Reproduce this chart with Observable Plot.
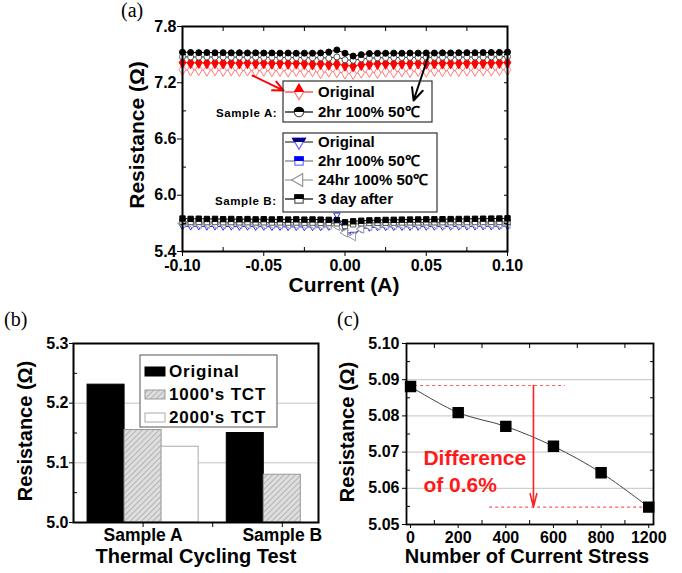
<!DOCTYPE html>
<html><head><meta charset="utf-8">
<script src="https://cdn.jsdelivr.net/npm/d3@7"></script>
<script src="https://cdn.jsdelivr.net/npm/@observablehq/plot@0.6"></script>
<style>
body{margin:0;background:#fff;}
#root{position:relative;width:682px;height:573px;overflow:hidden;background:#fff;}
#root > svg, #root > figure{position:absolute;margin:0;}
#root text{font-weight:bold;}
</style></head><body>
<svg width="0" height="0" style="position:absolute"><defs>
<pattern id="hatch" patternUnits="userSpaceOnUse" width="4" height="4" patternTransform="rotate(45)">
<rect width="4" height="4" fill="#dedede"/><line x1="0" y1="0" x2="0" y2="4" stroke="#9c9c9c" stroke-width="1.3"/></pattern>
</defs></svg>
<div id="root"></div>
<script>
// ================= DATA =================
// Panel (a): resistance vs current
const currentA = [-0.100,-0.095,-0.090,-0.085,-0.080,-0.075,-0.070,-0.065,-0.060,-0.055,-0.050,-0.045,-0.040,-0.035,-0.030,-0.025,-0.020,-0.015,-0.010,-0.005,0.000,0.005,0.010,0.015,0.020,0.025,0.030,0.035,0.040,0.045,0.050,0.055,0.060,0.065,0.070,0.075,0.080,0.085,0.090,0.095,0.100];
const sampleA_original_fill = [7.415,7.412,7.414,7.410,7.413,7.409,7.412,7.408,7.411,7.407,7.410,7.406,7.409,7.405,7.407,7.404,7.398,7.402,7.395,7.400,7.385,7.378,7.392,7.398,7.403,7.405,7.404,7.406,7.405,7.407,7.406,7.408,7.407,7.409,7.408,7.410,7.409,7.411,7.412,7.413,7.415];
const sampleA_original_open = [7.340,7.334,7.338,7.331,7.336,7.329,7.335,7.327,7.333,7.326,7.331,7.324,7.330,7.322,7.328,7.318,7.325,7.305,7.322,7.315,7.300,7.296,7.310,7.318,7.306,7.322,7.312,7.325,7.318,7.327,7.322,7.329,7.325,7.331,7.328,7.333,7.330,7.335,7.333,7.337,7.340];
const sampleA_2hr_fill = [7.526,7.523,7.521,7.522,7.520,7.521,7.519,7.520,7.518,7.519,7.517,7.518,7.516,7.517,7.515,7.516,7.515,7.518,7.528,7.550,7.515,7.485,7.500,7.512,7.514,7.515,7.516,7.515,7.517,7.516,7.518,7.517,7.519,7.518,7.520,7.521,7.520,7.522,7.523,7.524,7.527];
const sampleA_2hr_open = [7.478,7.475,7.474,7.476,7.473,7.474,7.472,7.474,7.471,7.473,7.470,7.472,7.469,7.471,7.468,7.470,7.466,7.468,7.462,7.475,7.445,7.440,7.455,7.462,7.466,7.468,7.469,7.470,7.471,7.470,7.472,7.471,7.473,7.472,7.474,7.473,7.475,7.474,7.476,7.477,7.479];
const sampleB_original = [5.670,5.668,5.669,5.667,5.668,5.666,5.667,5.665,5.666,5.664,5.665,5.663,5.664,5.662,5.663,5.661,5.662,5.660,5.665,5.790,5.610,5.585,5.640,5.655,5.660,5.662,5.663,5.664,5.664,5.665,5.665,5.666,5.666,5.667,5.667,5.668,5.668,5.669,5.669,5.670,5.671];
const sampleB_24hr = [5.700,5.694,5.692,5.693,5.690,5.691,5.689,5.690,5.688,5.689,5.687,5.688,5.686,5.687,5.685,5.686,5.684,5.682,5.680,5.670,5.600,5.560,5.640,5.668,5.676,5.680,5.682,5.683,5.684,5.685,5.686,5.686,5.687,5.687,5.688,5.688,5.689,5.689,5.690,5.690,5.691];
const sampleB_3day_open = [5.716,5.714,5.715,5.713,5.714,5.712,5.713,5.711,5.712,5.710,5.711,5.709,5.710,5.708,5.709,5.707,5.708,5.705,5.703,5.700,5.672,5.690,5.700,5.704,5.706,5.707,5.708,5.709,5.710,5.710,5.711,5.711,5.712,5.712,5.713,5.713,5.714,5.714,5.715,5.715,5.716];
const sampleB_3day_fill = [5.752,5.748,5.750,5.747,5.748,5.745,5.747,5.744,5.746,5.743,5.745,5.742,5.744,5.741,5.743,5.740,5.742,5.740,5.738,5.735,5.712,5.722,5.728,5.732,5.735,5.737,5.738,5.740,5.741,5.742,5.743,5.744,5.745,5.746,5.747,5.748,5.749,5.750,5.751,5.752,5.754];
const currentTicks = [-0.10,-0.05,0,0.05,0.10];
const currentMinorTicks = [-0.075,-0.025,0.025,0.075];
const resistanceTicksA = [5.4,6.0,6.6,7.2,7.8];
const resistanceMinorTicksA = [5.7,6.3,6.9,7.5];
const legendA = ["Original","2hr 100% 50\u2103"];
const legendB = ["Original","2hr 100% 50\u2103","24hr 100% 50\u2103","3 day after"];
const arrowFromX = [-0.0569, 0.0514];
const arrowFromY = [7.277, 7.491];
const arrowToX = [-0.0378, 0.0422];
const arrowToY = [7.117, 7.011];

// Panel (b): thermal cycling test
const tctSamples = ["Sample A","Sample B"];
const tctSeries = ["Original","1000's TCT","2000's TCT"];
const tctOriginal = [5.231, 5.150];
const tct1000 = [5.155, 5.080];
const tct2000 = [5.127, null];
const resistanceTicksB = [5.0,5.1,5.2,5.3];
const resistanceMinorTicksB = [5.05,5.15,5.25];

// Panel (c): current stress
const stressLabels = ["0","200","400","600","800","1200"];
const stressResistance = [5.0881,5.0809,5.0771,5.0716,5.0643,5.0548];
const resistanceTicksC = [5.05,5.06,5.07,5.08,5.09,5.10];
const resistanceMinorTicksC = [5.055,5.065,5.075,5.085,5.095];
const diffLevels = [5.0884, 5.0548];
const diffLineStart = [-0.04, 1.66];
const diffLineEnd = [3.25, 5.04];
const diffArrowIndex = 2.58;
const diffNote = ["Difference","of 0.6%"];
const diffNoteIndex = 0.27;
const diffNoteY = [5.0663, 5.0591];

// ================= DRAWING =================
const root = document.getElementById("root");
const FONT = '"Liberation Sans", Arial, Helvetica, sans-serif';
const baseStyle = {fontFamily: FONT, fontWeight: "bold", fontSize: "16px", color: "#000", background: "transparent", overflow: "visible"};
const blank = () => "";
const B = {fontWeight: "bold", label: null};

function place(el, left, top) { el.style.position = "absolute"; el.style.left = left + "px"; el.style.top = top + "px"; root.appendChild(el); }

// ---- Panel (a)
const seriesA = [
  {v: sampleA_original_open, line: "#ff6b6b", stroke: "#ff7b7b", fill: "white", symbol: "diamond", r: 3.5, rotate: 0},
  {v: sampleA_original_fill, line: "#ff0000", stroke: "#ff0000", fill: "#ff0000", symbol: "diamond", r: 3.5, rotate: 0},
  {v: sampleA_2hr_open, line: "#333", stroke: "#555", fill: "white", symbol: "circle", r: 3, rotate: 0},
  {v: sampleA_2hr_fill, line: "#000", stroke: "#000", fill: "#000", symbol: "circle", r: 3, rotate: 0},
  {v: sampleB_original, line: "#2020ff", stroke: "#3030ff", fill: "white", symbol: "triangle", r: 2.4, rotate: 180},
  {v: sampleB_24hr, line: "#999", stroke: "#999", fill: "white", symbol: "triangle", r: 3.2, rotate: -90},
  {v: sampleB_3day_open, line: "#444", stroke: "#555", fill: "white", symbol: "square", r: 3, rotate: 0},
  {v: sampleB_3day_fill, line: "#000", stroke: "#000", fill: "#000", symbol: "square", r: 3, rotate: 0}
];
const marksA = [];
for (const s of seriesA) {
  const rows = currentA.map((x, i) => ({x, y: s.v[i]}));
  marksA.push(Plot.line(rows, {x: "x", y: "y", stroke: s.line, strokeWidth: 1}));
  marksA.push(Plot.dot(rows, {x: "x", y: "y", symbol: s.symbol, r: s.r, rotate: s.rotate, fill: s.fill, stroke: s.stroke, strokeWidth: 1}));
}
const arrowsA = arrowFromX.map((x1, i) => ({x1, y1: arrowFromY[i], x2: arrowToX[i], y2: arrowToY[i], c: i === 0 ? "#ff0000" : "#000"}));
const plotA = Plot.plot({
  width: 430, height: 300, marginLeft: 82, marginRight: 23, marginTop: 26, marginBottom: 49,
  style: baseStyle,
  x: {domain: [-0.1, 0.1]}, y: {domain: [5.4, 7.8]},
  marks: [
    ...marksA,
    Plot.arrow(arrowsA, {x1: "x1", y1: "y1", x2: "x2", y2: "y2", stroke: "c", strokeWidth: 2, headLength: 10, headAngle: 50}),
    Plot.axisY({...B, ticks: resistanceTicksA, tickFormat: d => d.toFixed(1), tickSize: 5, tickPadding: 1}),
    Plot.axisY({...B, ticks: resistanceMinorTicksA, tickSize: -4, tickFormat: blank}),
    Plot.axisY({...B, anchor: "right", ticks: resistanceTicksA.concat(resistanceMinorTicksA), tickSize: -4, tickFormat: blank}),
    Plot.axisX({...B, ticks: currentTicks, tickFormat: d => d.toFixed(2), tickSize: 5, tickPadding: 3}),
    Plot.axisX({...B, ticks: currentMinorTicks, tickSize: -4, tickFormat: blank}),
    Plot.axisX({...B, anchor: "top", ticks: currentTicks.concat(currentMinorTicks), tickSize: -4, tickFormat: blank}),
    Plot.frame({stroke: "#000", strokeWidth: 2})
  ]
});
place(plotA, 100, 0);

// ---- Panel (b)
const barWidth = 0.266;
const barSeries = [tctOriginal, tct1000, tct2000];
const barFill = ["#000", "url(#hatch)", "#fff"];
const barStroke = ["#000", "#999", "#aaa"];
const barsB = [];
tctSamples.forEach((s, i) => barSeries.forEach((vals, j) => {
  if (vals[i] == null) return;
  const c = i + 1;
  barsB.push({x1: c + (j - 1.5) * barWidth, x2: c + (j - 0.5) * barWidth, y1: resistanceTicksB[0], y2: vals[i], fill: barFill[j], stroke: barStroke[j]});
}));
const plotB = Plot.plot({
  width: 335, height: 273, marginLeft: 73, marginRight: 17, marginTop: 43, marginBottom: 51,
  style: baseStyle,
  x: {domain: [0.5, 2.26]}, y: {domain: [5.0, 5.3]},
  marks: [
    Plot.gridY(resistanceTicksB.slice(1, -1), {stroke: "#c4c4c4", strokeOpacity: 1}),
    Plot.rect(barsB, {x1: "x1", x2: "x2", y1: "y1", y2: "y2", fill: "fill", stroke: "stroke", strokeWidth: 1, clip: true}),
    Plot.axisY({...B, ticks: resistanceTicksB, tickFormat: d => d.toFixed(1), tickSize: 4, tickPadding: 1}),
    Plot.axisY({...B, ticks: resistanceMinorTicksB, tickSize: -4, tickFormat: blank}),
    Plot.axisX({...B, ticks: [1, 2], tickFormat: i => tctSamples[i - 1], tickSize: 5, tickPadding: 1, fontSize: 17.5}),
    Plot.axisX({...B, ticks: [1.5], tickSize: 5, tickFormat: blank}),
    Plot.frame({stroke: "#000", strokeWidth: 2})
  ]
});
place(plotB, 0, 300);

// ---- Panel (c)
const stressRows = stressLabels.map((l, i) => ({i, y: stressResistance[i]}));
const diffRows = diffLevels.map((y, k) => ({y, x1: diffLineStart[k], x2: diffLineEnd[k]}));
const noteRows = diffNote.map((t, k) => ({t, x: diffNoteIndex, y: diffNoteY[k]}));
const plotC = Plot.plot({
  width: 342, height: 273, marginLeft: 66, marginRight: 29, marginTop: 43, marginBottom: 49,
  style: baseStyle,
  x: {domain: [-0.085, 5.1]}, y: {domain: [5.05, 5.10]},
  marks: [
    Plot.gridY(resistanceTicksC.slice(1, -1), {stroke: "#c4c4c4", strokeOpacity: 1}),
    Plot.ruleY(diffRows, {y: "y", x1: "x1", x2: "x2", stroke: "#ff5a5a", strokeWidth: 1.2, strokeDasharray: "3,3"}),
    Plot.line(stressRows, {x: "i", y: "y", curve: "catmull-rom", stroke: "#444", strokeWidth: 1}),
    Plot.dot(stressRows, {x: "i", y: "y", symbol: "square", r: 5.6, fill: "#000", stroke: "#000"}),
    Plot.arrow([{x: diffArrowIndex, y1: diffLevels[0], y2: diffLevels[1]}], {x1: "x", x2: "x", y1: "y1", y2: "y2", stroke: "#ff2020", strokeWidth: 1.6, headLength: 13, headAngle: 28}),
    Plot.text(noteRows, {x: "x", y: "y", text: "t", textAnchor: "start", lineAnchor: "bottom", fill: "#ff1a1a", fontSize: 21, fontWeight: "bold"}),
    Plot.axisY({...B, ticks: resistanceTicksC, tickFormat: d => d.toFixed(2), tickSize: 4, tickPadding: 3}),
    Plot.axisY({...B, ticks: resistanceMinorTicksC, tickSize: -4, tickFormat: blank}),
    Plot.axisY({...B, anchor: "right", ticks: resistanceMinorTicksC, tickSize: -4, tickFormat: blank}),
    Plot.axisX({...B, ticks: d3.range(stressLabels.length), tickFormat: i => stressLabels[i], tickSize: 4, tickPadding: 3}),
    Plot.axisX({...B, ticks: [0.5, 1.5, 2.5, 3.5, 4.5], tickSize: -4, tickFormat: blank}),
    Plot.axisX({...B, anchor: "top", ticks: [0.5, 1.5, 2.5, 3.5, 4.5], tickSize: -4, tickFormat: blank}),
    Plot.frame({stroke: "#000", strokeWidth: 1.8})
  ]
});
place(plotC, 340, 300);

// ---- Overlay: titles, panel letters, legends
const ov = d3.select(root).append("svg").attr("width", 682).attr("height", 573)
  .style("position", "absolute").style("left", "0px").style("top", "0px")
  .attr("font-family", FONT).attr("font-weight", "bold");
const defs = ov.append("defs");

function label(x, y, txt, size, opts = {}) {
  const t = ov.append("text").attr("x", x).attr("y", y).attr("font-size", size).text(txt)
    .attr("text-anchor", opts.anchor || "start").attr("fill", opts.fill || "#000");
  if (opts.rotate) t.attr("transform", `rotate(${opts.rotate},${x},${y})`);
  if (opts.serif) t.attr("font-family", '"Liberation Serif", "Times New Roman", serif').style("font-weight", "normal");
  if (opts.ls) t.attr("letter-spacing", opts.ls);
  return t;
}
label(121, 17, "(a)", 20, {serif: true});
label(4, 326, "(b)", 20, {serif: true});
label(337, 326, "(c)", 20, {serif: true});
label(144, 135, "Resistance (\u03A9)", 21, {anchor: "middle", rotate: -90});
label(344, 292, "Current (A)", 21, {anchor: "middle"});
label(32, 431, "Resistance (\u03A9)", 20, {anchor: "middle", rotate: -90});
label(196, 563, "Thermal Cycling Test", 20, {anchor: "middle"});
label(354, 432, "Resistance (\u03A9)", 20, {anchor: "middle", rotate: -90});
label(527, 563, "Number of Current Stress", 20, {anchor: "middle"});

// legend symbols for panel (a)
let clipId = 0;
function legendSymbol(cx, cy, type, rotate, dark, light, lineColor) {
  const g = ov.append("g");
  g.append("line").attr("x1", cx - 14).attr("x2", cx + 14).attr("y1", cy).attr("y2", cy).attr("stroke", lineColor).attr("stroke-width", 1.2);
  const p = d3.symbol().type(type).size(70)();
  const tr = `translate(${cx},${cy}) rotate(${rotate})`;
  g.append("path").attr("d", p).attr("transform", tr).attr("fill", "white").attr("stroke", light).attr("stroke-width", 1.2);
  if (dark) {
    const id = "half" + (clipId++);
    defs.append("clipPath").attr("id", id).append("rect").attr("x", cx - 10).attr("y", cy - 10).attr("width", 20).attr("height", 10);
    g.append("g").attr("clip-path", `url(#${id})`).append("path").attr("d", p).attr("transform", tr).attr("fill", dark).attr("stroke", dark).attr("stroke-width", 1.2);
  }
}
ov.append("rect").attr("x", 283).attr("y", 81).attr("width", 149).attr("height", 41).attr("fill", "none").attr("stroke", "#333").attr("stroke-width", 1.2);
const symA = [
  [d3.symbolDiamond, 0, "#ff0000", "#ff7b7b", "#ff3030"],
  [d3.symbolCircle, 0, "#000", "#555", "#000"]
];
legendA.forEach((t, k) => {
  const cy = 92 + k * 20;
  legendSymbol(299, cy, ...symA[k]);
  label(318, cy + 5, t, 15);
});
label(216, 117, "Sample A:", 11.5, {ls: 0.6});

ov.append("rect").attr("x", 283).attr("y", 133).attr("width", 154).attr("height", 79).attr("fill", "none").attr("stroke", "#333").attr("stroke-width", 1.2);
const symB = [
  [d3.symbolTriangle, 180, "#000080", "#6a6aff", "#333"],
  [d3.symbolSquare, 0, "#0000ff", "#7070ff", "#777"],
  [d3.symbolTriangle, -90, null, "#999", "#999"],
  [d3.symbolSquare, 0, "#000", "#555", "#000"]
];
legendB.forEach((t, k) => {
  const cy = 142 + k * 19;
  legendSymbol(299, cy, ...symB[k]);
  label(318, cy + 5, t, 15);
});
label(215, 205, "Sample B:", 11.5, {ls: 0.6});

// legend for panel (b)
ov.append("rect").attr("x", 140).attr("y", 355).attr("width", 137).attr("height", 72).attr("fill", "#fff").attr("stroke", "#555").attr("stroke-width", 1);
tctSeries.forEach((t, k) => {
  const top = 367 + k * 23;
  ov.append("rect").attr("x", 145).attr("y", top).attr("width", 20).attr("height", 9)
    .attr("fill", barFill[k]).attr("stroke", barStroke[k]).attr("stroke-width", 1);
  label(169, top + 10, t, 17, {ls: 0.8});
});
</script>
</body></html>
